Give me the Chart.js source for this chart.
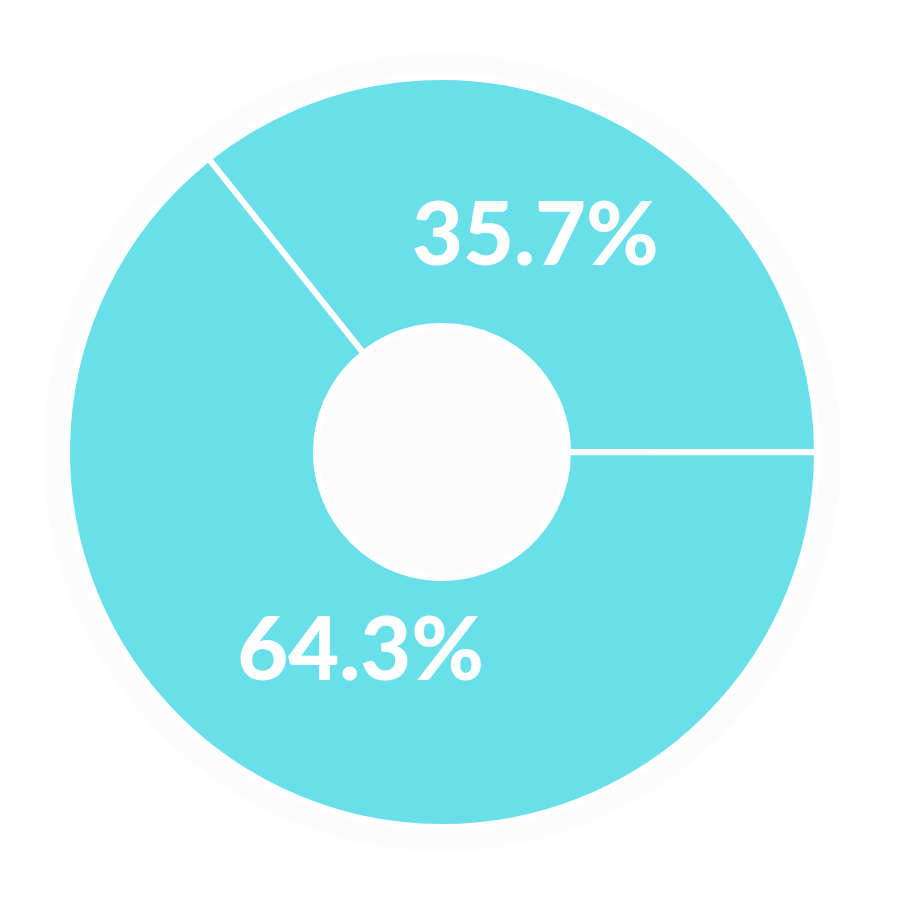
<!DOCTYPE html>
<html>
<head>
<meta charset="utf-8">
<script src="https://cdn.jsdelivr.net/npm/chart.js@4"></script>
<style>
  html, body { margin: 0; padding: 0; background: #ffffff; }
  #wrap { width: 901px; height: 899px; }
</style>
</head>
<body>
<div id="wrap"><canvas id="chartCanvas"></canvas></div>
<script>
const etiquetas = ['A', 'B'];
const valores = [35.7, 64.3];
const colores = ['#69dfea', '#69dfea'];

// texto del porcentaje dentro de cada sector
const etiquetasPlugin = {
    id: 'etiquetas',
    beforeDraw(chart) {
        const arc = chart.getDatasetMeta(0).data[0];
        const c = chart.ctx;
        c.save();
        c.fillStyle = '#fcfcfc';
        c.beginPath();
        c.arc(arc.x, arc.y, arc.outerRadius + 24, 0, Math.PI * 2);
        c.fill();
        c.restore();
    },
    afterDatasetsDraw(chart) {
        const c = chart.ctx;
        const meta = chart.getDatasetMeta(0);
        c.save();
        c.fillStyle = '#ffffff';
        c.font = '900 88px Lato';
        c.textAlign = 'center';
        c.textBaseline = 'middle';
        meta.data.forEach((arc, i) => {
            const mid = (arc.startAngle + arc.endAngle) / 2 - 0.052;
            const r = (arc.innerRadius + arc.outerRadius) / 2 * 0.9;
            const x = arc.x + Math.cos(mid) * r + 6;
            const y = arc.y + Math.sin(mid) * r - 8;
            c.fillText(valores[i].toFixed(1) + '%', x, y);
        });
        c.restore();
    }
};

const ctx = document.getElementById('chartCanvas').getContext('2d');
const grafico = new Chart(ctx, {
    type: 'doughnut',
    data: {
        labels: etiquetas,
        datasets: [{
            data: valores,
            backgroundColor: colores,
            borderColor: '#ffffff',
            borderWidth: 6,
            radius: 375,
            cutout: '33.6%'
        }]
    },
    options: {
        responsive: true,
        maintainAspectRatio: false,
        animation: false,
        rotation: -38.5,
        layout: { padding: { left: 0, right: 17, top: 5, bottom: 0 } },
        plugins: {
            legend: { display: false },
            tooltip: { enabled: false }
        }
    },
    plugins: [etiquetasPlugin]
});
</script>
</body>
</html>
